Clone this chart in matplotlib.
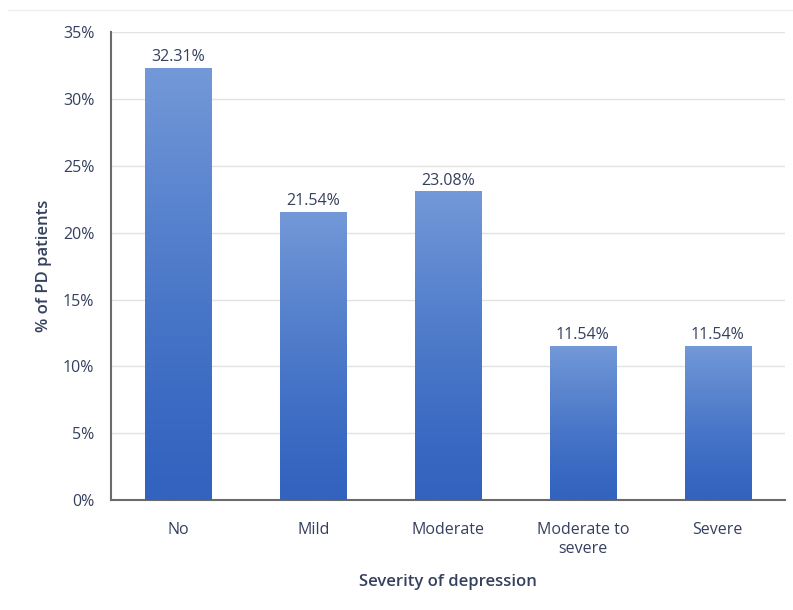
import numpy as np
import matplotlib.pyplot as plt
from matplotlib.colors import LinearSegmentedColormap
from matplotlib.lines import Line2D

categorias = ['No', 'Mild', 'Moderate', 'Moderate to\nsevere', 'Severe']
valores = [32.31, 21.54, 23.08, 11.54, 11.54]
rotulos = ['32.31%', '21.54%', '23.08%', '11.54%', '11.54%']
yticks = [0, 5, 10, 15, 20, 25, 30, 35]

plt.rcParams['font.family'] = ['Open Sans', 'DejaVu Sans']
cor_texto = '#34405e'

fig = plt.figure(figsize=(7.93, 6.10), dpi=100)
ax = fig.add_axes([0.140, 0.180, 0.850, 0.7675])

# degradê nas barras: claro em cima, escuro embaixo
gradiente = LinearSegmentedColormap.from_list('azul', ['#3263bf', '#7399d8'])
barras = ax.bar(range(len(valores)), valores, width=0.49, color='none', zorder=3)
for b in barras:
    x0, y0 = b.get_x(), b.get_y()
    w, h = b.get_width(), b.get_height()
    img = ax.imshow(np.linspace(0, 1, 256).reshape(-1, 1) ** 1.3, cmap=gradiente,
                    extent=[x0, x0 + w, y0, y0 + h], origin='lower',
                    aspect='auto', zorder=3)
    img.set_clip_path(b)

for i, v in enumerate(valores):
    ax.text(i, v + 0.2, rotulos[i], ha='center', va='bottom',
            fontsize=11.5, color=cor_texto, zorder=4)

ax.set_xlim(-0.5, len(valores) - 0.5)
ax.set_ylim(0, 35)
ax.set_yticks(yticks)
ax.set_yticklabels([f'{t}%' for t in yticks], fontsize=11.5, color=cor_texto)
ax.set_xticks(range(len(categorias)))
ax.set_xticklabels(categorias, fontsize=11.5, color=cor_texto, va='top')
ax.tick_params(axis='y', length=0, pad=12)
ax.tick_params(axis='x', length=0, pad=16)
ax.grid(axis='y', color='#e2e2e2', linewidth=1, zorder=0)
ax.set_axisbelow(True)

for lado in ['top', 'right']:
    ax.spines[lado].set_visible(False)
ax.spines['left'].set_color('#6b6b6b')
ax.spines['bottom'].set_color('#6b6b6b')
ax.spines['left'].set_linewidth(1.5)
ax.spines['bottom'].set_linewidth(1.5)

ax.set_xlabel('Severity of depression', fontsize=12, color=cor_texto, fontweight='semibold')
ax.set_ylabel('% of PD patients', fontsize=12, color=cor_texto, fontweight='semibold')
ax.xaxis.set_label_coords(0.5, -0.158)
ax.yaxis.set_label_coords(-0.088, 0.5)

fig.add_artist(Line2D([0.01, 1.0], [0.984, 0.984], color='#eeeeee', linewidth=1))

fig.savefig('out.png', dpi=100)
